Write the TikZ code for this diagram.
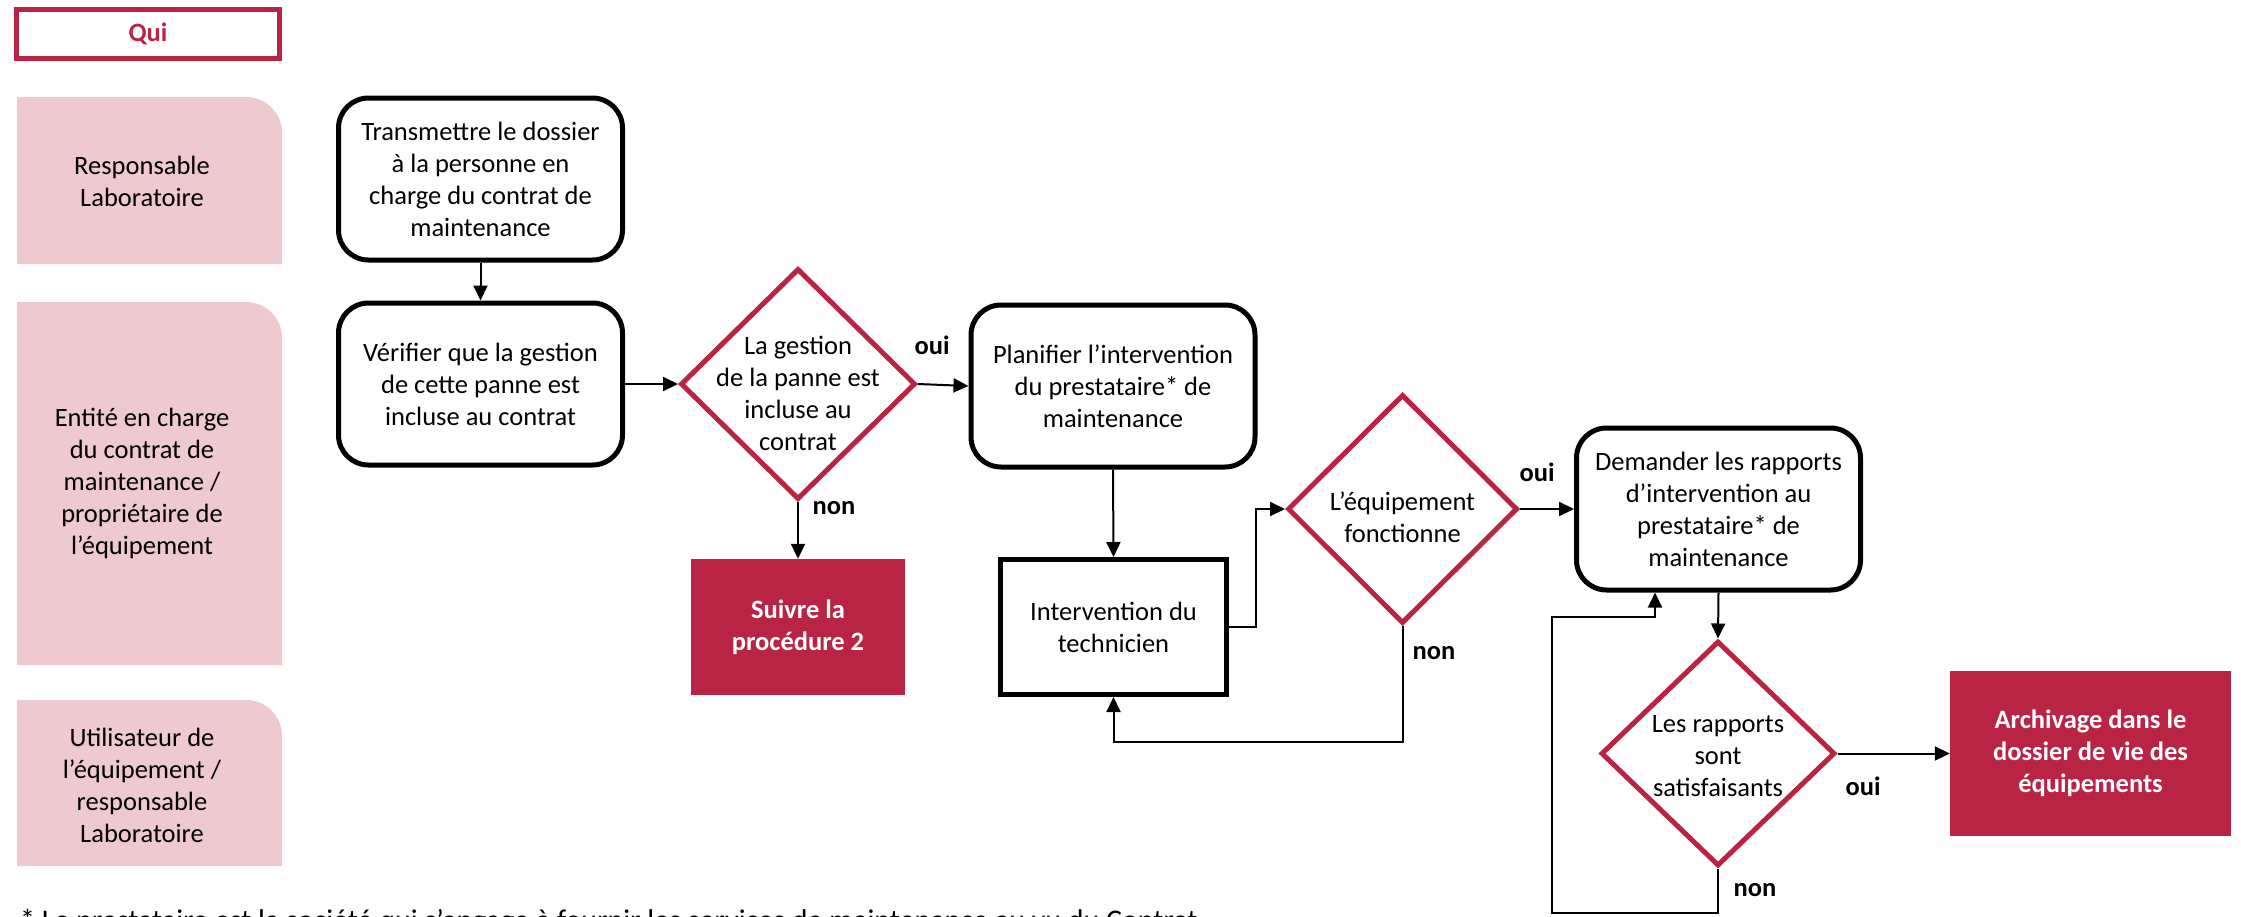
\documentclass[tikz,border=0pt]{standalone}
\usepackage{fontspec}
\setmainfont{Carlito}
\usetikzlibrary{
  positioning,
  arrows.meta,
  shapes.geometric,
  calc
}
\definecolor{crimson}{HTML}{BA2444}
\definecolor{lanepink}{HTML}{EEC9CF}

\begin{document}
\begin{tikzpicture}[
    x=1pt,y=-1pt,
    font=\fontsize{26.5}{32}\selectfont,>={Triangle[length=15pt,width=14pt]},
    stepbox/.style={
      draw=black,
      line width=5pt,
      rounded corners=30pt,
      fill=white,
      align=center,
      minimum width=284pt,
      minimum height=162pt
    },
    taskbox/.style={
      draw=black,
      line width=5pt,
      fill=white,
      align=center,
      minimum width=226pt,
      minimum height=135pt
    },
    decision/.style={
      diamond,
      draw=crimson,
      line width=5pt,
      fill=white,
      inner sep=0pt
    },
    endbox/.style={
      fill=crimson,
      text=white,
      font=\fontsize{26.5}{32}\selectfont\bfseries,
      align=center
    },
    lanetext/.style={
      align=center
    },
    answer/.style={
      font=\fontsize{26.5}{32}\selectfont\bfseries
    },
    flow/.style={
      black,
      line width=2pt,
      ->
    }
  ]
  \useasboundingbox (0,0) rectangle (2241,916);
  \clip (0,0) rectangle (2241,916);

  % Lanes
  \node[draw=crimson, line width=5pt, minimum width=263pt, minimum height=49pt,
    text=crimson, font=\fontsize{26.5}{32}\selectfont\bfseries] (qui) at (148,34) {Qui};
  \foreach \top/\bottom in {97/264, 302/665, 700/866} {
    \fill[lanepink] (17,\bottom) -- (17,\top) -- (246,\top)
      to[out=0,in=90] (282,\top+36) -- (282,\bottom) -- cycle;
  }
  \node[lanetext] (lane1) at (142,181) {Responsable\\Laboratoire};
  \node[lanetext] (lane2) at (142,483) {Entité en charge\\du contrat de\\maintenance /\\propriétaire de\\l’équipement};
  \node[lanetext] (lane3) at (142,785) {Utilisateur de\\l’équipement /\\responsable\\Laboratoire};

  % Steps
  \node[stepbox] (transmit) at (480.5,179) {Transmettre le dossier\\à la personne en\\charge du contrat de\\maintenance};
  \node[stepbox] (check) at (480.5,384) {Vérifier que la gestion\\de cette panne est\\incluse au contrat};
  \node[stepbox] (plan) at (1113,386) {Planifier l’intervention\\du prestataire* de\\maintenance};
  \node[taskbox] (visit) at (1113.5,627) {Intervention du\\technicien};
  \node[stepbox] (reports) at (1718.5,509) {Demander les rapports\\d’intervention au\\prestataire* de\\maintenance};

  % Decisions
  \node[decision, minimum width=235pt, minimum height=231pt,
    label={[align=center, yshift=-9pt]center:La gestion\\de la panne est\\incluse au\\contrat}] (incl) at (798,384) {};
  \node[decision, minimum width=230pt, minimum height=229pt,
    label={[align=center, yshift=-8pt]center:L’équipement\\fonctionne}] (works) at (1402.5,509) {};
  \node[decision, minimum width=234pt, minimum height=225pt,
    label={[align=center, yshift=-3pt]center:Les rapports\\sont\\satisfaisants}] (ok) at (1718,753.5) {};

  % Ends
  \node[endbox, minimum width=214pt, minimum height=136pt] (proc2) at (798,627) {Suivre la\\procédure 2};
  \node[endbox, minimum width=281pt, minimum height=165pt] (archive) at (2090.5,753.5) {Archivage dans le\\dossier de vie des\\équipements};

  % Answers
  \node[answer] (yes1) at (932,345) {oui};
  \node[answer] (no1) at (834,508) {non};
  \node[answer] (yes2) at (1537,472) {oui};
  \node[answer] (no2) at (1434,653) {non};
  \node[answer] (yes3) at (1863,786) {oui};
  \node[answer] (no3) at (1755,890) {non};

  % Connections
  \draw[flow] (transmit.south) -- (check.north);
  \draw[flow] (check.east) -- (incl.west);
  \draw[flow] (incl.east) -- (plan.west);
  \draw[flow] (incl.south) -- (proc2.north);
  \draw[flow] (plan.south) -- (visit.north);
  \draw[flow] (visit.east) -- ++(27,0) |- (works.west);
  \draw[flow] (works.east) -- (reports.west);
  \draw[flow] (works.south) -- ++(0,116) -| (visit.south);
  \draw[flow] (reports.south) -- (ok.north);
  \draw[flow] (ok.east) -- (archive.west);
  \coordinate (loopa) at (1552,913);
  \coordinate (loopb) at (1655,617);
  \draw[flow] (ok.south) |- (loopa) |- (loopb) -- (loopb |- reports.south);

  % Footnote
  \node[anchor=base west, inner sep=0pt, font=\fontsize{30}{36}\selectfont] (note) at (20,930) {* Le prestataire est la société qui s’engage à fournir les services de maintenance au vu du Contrat};
\end{tikzpicture}
\end{document}
